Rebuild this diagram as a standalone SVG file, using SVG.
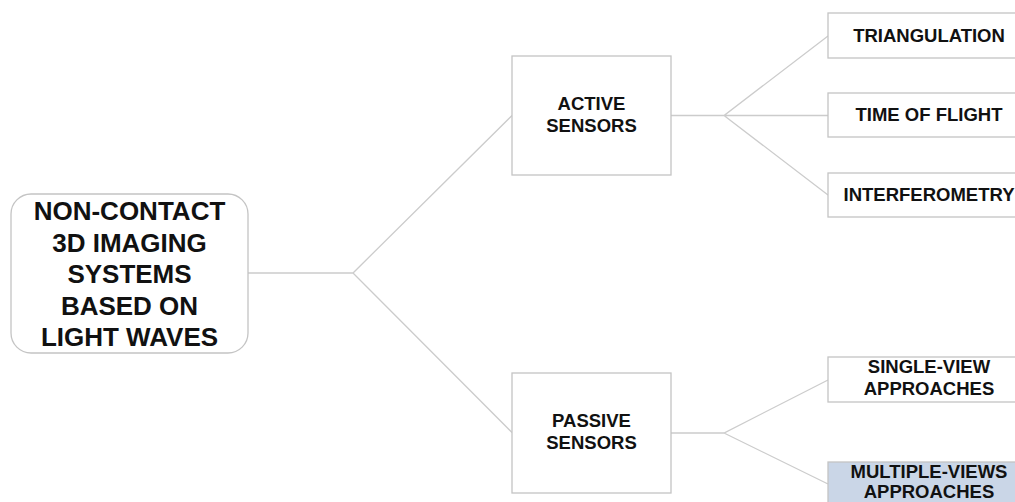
<svg xmlns="http://www.w3.org/2000/svg" width="1015" height="502" viewBox="0 0 1015 502">
<style>
.box{fill:#ffffff;stroke:#c4c4c4;stroke-width:1.3}
.hl{fill:#cad6e7;stroke:#c4c4c4;stroke-width:1.3}
.c{fill:none;stroke:#cccccc;stroke-width:1.3}
text{font-family:"Liberation Sans",Arial,sans-serif;font-weight:bold;fill:#111111;text-anchor:middle}
.t1{font-size:26px}
.t2{font-size:18.5px}
</style>
<rect width="1015" height="502" fill="#ffffff"/>
<g id="connectors">
<path class="c" d="M248,273 H353 L512,115.5 M353,273 L512,432.5"/>
<path class="c" d="M671,115.5 H724 L828,36 M724,115.5 H828 M724,115.5 L828,195"/>
<path class="c" d="M671,433 H724 L828,380 M724,433 L828,484"/>
</g>
<g id="root">
<rect class="box" x="11" y="194" width="237" height="159" rx="20"/>
<text class="t1" x="129.5" y="220">NON-CONTACT</text>
<text class="t1" x="129.5" y="251.5">3D IMAGING</text>
<text class="t1" x="129.5" y="283">SYSTEMS</text>
<text class="t1" x="129.5" y="314.5">BASED ON</text>
<text class="t1" x="129.5" y="346">LIGHT WAVES</text>
</g>
<g id="active">
<rect class="box" x="512" y="56" width="159" height="119"/>
<text class="t2" x="591.5" y="110">ACTIVE</text>
<text class="t2" x="591.5" y="132">SENSORS</text>
</g>
<g id="passive">
<rect class="box" x="512" y="373" width="159" height="120"/>
<text class="t2" x="591.5" y="427">PASSIVE</text>
<text class="t2" x="591.5" y="449">SENSORS</text>
</g>
<g id="triangulation">
<rect class="box" x="828" y="13" width="205" height="45"/>
<text class="t2" x="929" y="42">TRIANGULATION</text>
</g>
<g id="tof">
<rect class="box" x="828" y="93" width="205" height="44"/>
<text class="t2" x="929" y="121">TIME OF FLIGHT</text>
</g>
<g id="interferometry">
<rect class="box" x="828" y="173" width="205" height="44"/>
<text class="t2" x="929" y="201">INTERFEROMETRY</text>
</g>
<g id="single-view">
<rect class="box" x="828" y="357" width="205" height="45"/>
<text class="t2" x="929" y="373">SINGLE-VIEW</text>
<text class="t2" x="929" y="395">APPROACHES</text>
</g>
<g id="multiple-views">
<rect class="hl" x="828" y="462" width="205" height="50"/>
<text class="t2" x="929" y="478">MULTIPLE-VIEWS</text>
<text class="t2" x="929" y="498">APPROACHES</text>
</g>
</svg>
